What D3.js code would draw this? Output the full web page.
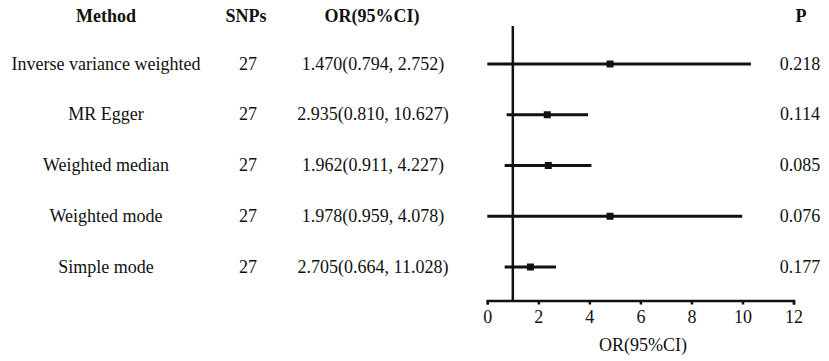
<!DOCTYPE html>
<html>
<head>
<meta charset="utf-8">
<script src="https://cdn.jsdelivr.net/npm/d3@7"></script>
<style>
  body { margin: 0; background: #fff; }
  svg text { font-family: "Liberation Serif", "Times New Roman", serif !important; fill: #111; }
</style>
</head>
<body>
<svg id="chart" width="829" height="361"></svg>
<script>
// table columns
var methods = ["Inverse variance weighted", "MR Egger", "Weighted median", "Weighted mode", "Simple mode"];
var snps = [27, 27, 27, 27, 27];
var orText = ["1.470(0.794, 2.752)", "2.935(0.810, 10.627)", "1.962(0.911, 4.227)",
              "1.978(0.959, 4.078)", "2.705(0.664, 11.028)"];
var pValues = ["0.218", "0.114", "0.085", "0.076", "0.177"];

// plotted estimates
var est = [4.81, 2.35, 2.39, 4.81, 1.69];
var lower = [0.0, 0.76, 0.68, 0.0, 0.68];
var upper = [10.33, 3.95, 4.08, 9.99, 2.69];
var xTicks = [0, 2, 4, 6, 8, 10, 12];

var svg = d3.select("#chart");
var serif = "Liberation Serif, Times New Roman, serif";

var x = d3.scaleLinear().domain([0, 12]).range([487.3, 793.5]);
var y = d3.scalePoint().domain(d3.range(methods.length)).range([64, 267]);
var axisY = 300.5;

// headers
var headers = [
  {t: "Method", x: 106},
  {t: "SNPs", x: 246},
  {t: "OR(95%CI)", x: 372},
  {t: "P", x: 801}
];
svg.selectAll(".hdr").data(headers).enter().append("text")
  .attr("class", "hdr")
  .attr("x", function(d) { return d.x; })
  .attr("y", 22)
  .attr("text-anchor", "middle")
  .attr("font-family", serif)
  .style("font-size", "18px")
  .style("font-weight", "bold")
  .text(function(d) { return d.t; });

// row text
var rows = svg.selectAll(".row").data(methods).enter().append("g")
  .attr("class", "row")
  .attr("font-family", serif)
  .style("font-size", "18px")
  .attr("transform", function(d, i) { return "translate(0," + (y(i) + 5.5) + ")"; });

rows.append("text").attr("x", 106).attr("text-anchor", "middle")
  .text(function(d) { return d; });
rows.append("text").attr("x", 248).attr("text-anchor", "middle")
  .text(function(d, i) { return snps[i]; });
rows.append("text").attr("x", 373).attr("text-anchor", "middle")
  .text(function(d, i) { return orText[i]; });
rows.append("text").attr("x", 800).attr("text-anchor", "middle")
  .text(function(d, i) { return pValues[i]; });

// x axis
var axis = svg.append("g")
  .attr("transform", "translate(0," + axisY + ")")
  .call(d3.axisBottom(x).tickValues(xTicks).tickSize(4).tickPadding(6).tickFormat(d3.format("d")))
  .attr("font-family", serif)
  .attr("font-size", 18);
axis.select(".domain").attr("stroke", "#111").attr("stroke-width", 2.5);
axis.selectAll(".tick line").attr("stroke", "#111").attr("stroke-width", 2.5);
axis.selectAll(".tick text").attr("fill", "#111");

svg.append("text")
  .attr("x", 643).attr("y", 351)
  .attr("text-anchor", "middle")
  .attr("font-family", serif)
  .style("font-size", "18px")
  .text("OR(95%CI)");

// reference line at OR = 1
svg.append("line")
  .attr("x1", x(1)).attr("x2", x(1))
  .attr("y1", 26).attr("y2", axisY)
  .attr("stroke", "#111").attr("stroke-width", 2.5);

// CI lines
svg.selectAll(".ci").data(est).enter().append("line")
  .attr("class", "ci")
  .attr("x1", function(d, i) { return x(lower[i]); })
  .attr("x2", function(d, i) { return x(upper[i]); })
  .attr("y1", function(d, i) { return y(i); })
  .attr("y2", function(d, i) { return y(i); })
  .attr("stroke", "#111").attr("stroke-width", 3);

// point estimates
svg.selectAll(".pt").data(est).enter().append("rect")
  .attr("class", "pt")
  .attr("x", function(d) { return x(d) - 3.5; })
  .attr("y", function(d, i) { return y(i) - 3.5; })
  .attr("width", 7).attr("height", 7)
  .attr("fill", "#111");
</script>
</body>
</html>
